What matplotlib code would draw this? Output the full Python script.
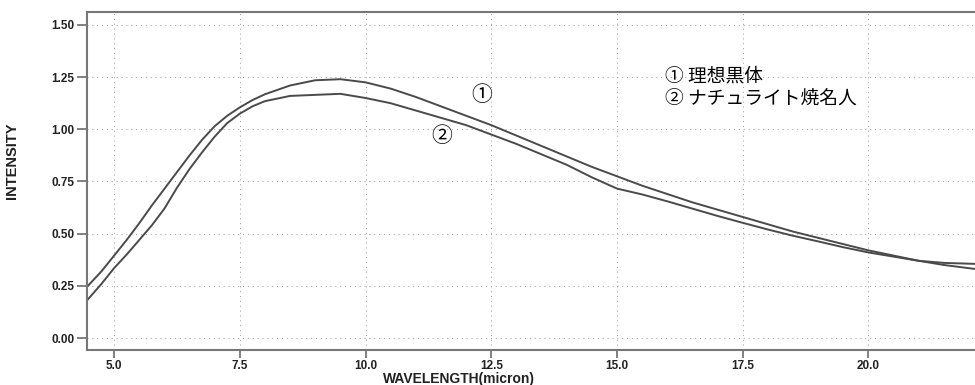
import matplotlib
matplotlib.use('Agg')
import matplotlib.pyplot as plt

# Dados
wavelength = [4.46, 4.75, 5.0, 5.25, 5.5, 5.75, 6.0, 6.25, 6.5, 6.75, 7.0,
              7.25, 7.5, 7.75, 8.0, 8.5, 9.0, 9.5, 10.0, 10.5, 11.0, 11.5,
              12.0, 12.5, 13.0, 13.5, 14.0, 14.5, 15.0, 15.5, 16.0, 16.5,
              17.0, 17.5, 18.0, 18.5, 19.0, 19.5, 20.0, 20.5, 21.0, 21.5,
              22.15]
ideal_blackbody = [0.245, 0.32, 0.395, 0.47, 0.55, 0.635, 0.715, 0.795, 0.875,
                   0.95, 1.015, 1.065, 1.105, 1.14, 1.168, 1.21, 1.235, 1.24,
                   1.225, 1.195, 1.155, 1.11, 1.065, 1.02, 0.97, 0.92, 0.87,
                   0.82, 0.775, 0.73, 0.69, 0.65, 0.615, 0.58, 0.545, 0.51,
                   0.48, 0.45, 0.42, 0.395, 0.37, 0.35, 0.33]
naturite = [0.18, 0.26, 0.335, 0.40, 0.47, 0.54, 0.62, 0.72, 0.81, 0.89,
            0.965, 1.03, 1.075, 1.11, 1.135, 1.16, 1.165, 1.17, 1.15, 1.125,
            1.09, 1.055, 1.02, 0.975, 0.93, 0.88, 0.83, 0.77, 0.716, 0.688,
            0.655, 0.62, 0.585, 0.552, 0.52, 0.49, 0.463, 0.435, 0.41, 0.39,
            0.37, 0.36, 0.355]
xticks = [5.0, 7.5, 10.0, 12.5, 15.0, 17.5, 20.0]
yticks = [0.0, 0.25, 0.5, 0.75, 1.0, 1.25, 1.5]
legend_lines = ['① 理想黒体', '② ナチュライト焼名人']

cjk = ['Noto Sans CJK JP', 'DejaVu Sans']
axis_grey = '#777777'

fig = plt.figure(figsize=(9.75, 3.85), dpi=100)
ax = fig.add_axes([0.0892, 0.0909, 0.9108, 0.8779])

ax.plot(wavelength, ideal_blackbody, color='#4a4a4a', linewidth=1.4)
ax.plot(wavelength, naturite, color='#4a4a4a', linewidth=1.4)

ax.set_xlim(4.46, 22.12)
ax.set_ylim(-0.0574, 1.562)
ax.set_xticks(xticks)
ax.set_xticklabels(['%.1f' % t for t in xticks])
ax.set_yticks(yticks)
ax.set_yticklabels(['%.2f' % t for t in yticks])

for lab in ax.get_xticklabels() + ax.get_yticklabels():
    lab.set_family('Liberation Sans')
    lab.set_weight('bold')
    lab.set_fontsize(8.5)
    lab.set_color('#222222')

ax.tick_params(axis='y', length=7, width=1.3, color=axis_grey, pad=2)
ax.tick_params(axis='x', length=5.5, width=1.3, color=axis_grey, pad=1.5)

for side in ['left', 'bottom', 'top']:
    ax.spines[side].set_color(axis_grey)
    ax.spines[side].set_linewidth(1.5)
ax.spines['right'].set_visible(False)

ax.grid(True, color='#9a9a9a', linestyle=(0, (1, 4)), linewidth=0.7)

ax.set_xlabel('WAVELENGTH(micron)', family='Liberation Sans', weight='bold',
              fontsize=10, color='#222222')
ax.xaxis.set_label_coords(0.419, -0.066)
ax.set_ylabel('INTENSITY', family='Liberation Sans', weight='bold',
              fontsize=10.5, color='#222222')
ax.yaxis.set_label_coords(-0.077, 0.56)

# Rótulos das curvas
ax.text(12.32, 1.163, '①', family=cjk, fontsize=15, ha='center', va='center')
ax.text(11.52, 0.967, '②', family=cjk, fontsize=15, ha='center', va='center')
ax.text(15.95, 1.254, legend_lines[0], family=cjk, fontsize=13.5,
        ha='left', va='center')
ax.text(15.95, 1.148, legend_lines[1], family=cjk, fontsize=13.5,
        ha='left', va='center')

fig.savefig('out.png', dpi=100)
